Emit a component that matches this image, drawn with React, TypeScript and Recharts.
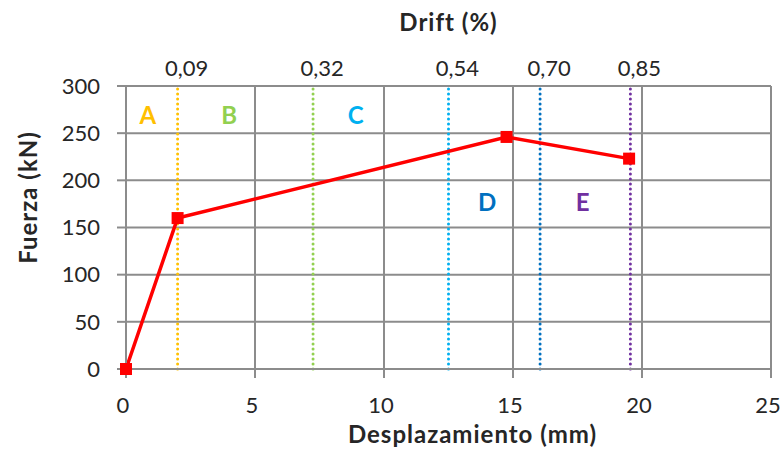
import React from 'react';
import {
  LineChart,
  Line,
  XAxis,
  YAxis,
  CartesianGrid,
  ReferenceLine,
  ReferenceDot,
} from 'recharts';

// Capacity curve: displacement (mm) vs. force (kN)
const displacement = [0, 2, 14.75, 19.5];
const force = [0, 160, 246, 223];

// Drift limits shown as dotted verticals, with their drift (%) labels on top
const driftPositions = [2, 7.25, 12.5, 16.05, 19.55];
const driftLabels = ['0,09', '0,32', '0,54', '0,70', '0,85'];
const driftColors = ['#FFC000', '#92D050', '#00B0F0', '#0070C0', '#7030A0'];

// Zone letters between the limits
const zoneLetters = ['A', 'B', 'C', 'D', 'E'];
const zoneX = [0.85, 4.0, 8.9, 14.0, 17.7];
const zoneY = [269, 269, 269, 177, 177];
const zoneColors = ['#FFC000', '#92D050', '#00B0F0', '#0070C0', '#7030A0'];

const xTicks = [0, 5, 10, 15, 20, 25];
const yTicks = [0, 50, 100, 150, 200, 250, 300];

const data = displacement.map((d, i) => ({ d, f: force[i] }));

const FONT = 'Lato, "Open Sans", sans-serif';
const TEXT = '#262626';
const GRID = '#8c8c8c';

const SquareDot = (props: any) => {
  const { cx, cy, index } = props;
  if (cx == null || cy == null) return null;
  return <rect key={`sq-${index}`} x={cx - 6} y={cy - 6} width={12} height={12} fill="#FF0000" />;
};

// drift labels sit a little right of their dotted line
const DriftTick = ({ x, y, payload, index }: any) => {
  const i = driftPositions.indexOf(payload.value);
  return (
    <text
      x={x + 9}
      y={y}
      textAnchor="middle"
      fontFamily={FONT}
      fontSize={22}
      fill={TEXT}
    >
      {driftLabels[i >= 0 ? i : index]}
    </text>
  );
};

const ForceTitle = ({ viewBox }: any) => {
  const cx = viewBox.x + 27;
  const cy = viewBox.y + viewBox.height / 2 - 30;
  return (
    <text
      x={cx}
      y={cy}
      transform={`rotate(-90 ${cx} ${cy})`}
      textAnchor="middle"
      dominantBaseline="central"
      fontFamily={FONT}
      fontWeight={700}
      fontSize={24}
      letterSpacing={1}
      fill={TEXT}
    >
      Fuerza (kN)
    </text>
  );
};

const App: React.FC = () => {
  return (
    <div style={{ position: 'absolute', left: 0, top: 0, width: 782, height: 452, background: '#fff' }}>
      <LineChart
        width={782}
        height={452}
        data={data}
        margin={{ top: 0, right: 11, bottom: 0, left: 0 }}
        style={{ fontFamily: FONT }}
      >
        <CartesianGrid stroke={GRID} strokeWidth={2} />
        <XAxis
          dataKey="d"
          type="number"
          domain={[0, 25]}
          ticks={xTicks}
          interval={0}
          height={83}
          tickSize={9}
          tickMargin={19}
          axisLine={{ stroke: GRID, strokeWidth: 2 }}
          tickLine={{ stroke: GRID, strokeWidth: 2 }}
          tick={{ fill: TEXT, fontSize: 22, fontFamily: FONT, dx: -3 }}
          label={{
            value: 'Desplazamiento (mm)',
            position: 'insideBottom',
            offset: 9,
            dx: 24,
            fill: TEXT,
            fontSize: 24,
            fontWeight: 700,
            fontFamily: FONT,
            letterSpacing: 1,
          }}
        />
        <XAxis
          xAxisId="top"
          dataKey="d"
          orientation="top"
          type="number"
          domain={[0, 25]}
          ticks={driftPositions}
          interval={0}
          height={86}
          tickSize={0}
          tickMargin={10}
          axisLine={false}
          tickLine={false}
          tick={<DriftTick />}
          label={{
            value: 'Drift (%)',
            position: 'insideTop',
            offset: 14,
            fill: TEXT,
            fontSize: 24,
            fontWeight: 700,
            fontFamily: FONT,
            letterSpacing: 1,
          }}
        />
        <YAxis
          type="number"
          domain={[0, 300]}
          ticks={yTicks}
          interval={0}
          width={126}
          tickSize={9}
          tickMargin={17}
          axisLine={{ stroke: GRID, strokeWidth: 2 }}
          tickLine={{ stroke: GRID, strokeWidth: 2 }}
          tick={{ fill: TEXT, fontSize: 22, fontFamily: FONT }}
          label={<ForceTitle />}
        />

        {driftPositions.map((x, i) => (
          <ReferenceLine
            key={`drift-${i}`}
            x={x}
            stroke={driftColors[i]}
            strokeWidth={3}
            strokeDasharray="0 5"
            strokeLinecap="round"
          />
        ))}

        {zoneLetters.map((letter, i) => (
          <ReferenceDot
            key={`zone-${i}`}
            x={zoneX[i]}
            y={zoneY[i]}
            r={0}
            stroke="none"
            fill="none"
            label={{
              value: letter,
              position: 'center',
              fill: zoneColors[i],
              fontSize: 24,
              fontWeight: 700,
              fontFamily: FONT,
            }}
          />
        ))}

        <Line
          type="linear"
          dataKey="f"
          stroke="#FF0000"
          strokeWidth={3.5}
          dot={<SquareDot />}
          activeDot={false}
          isAnimationActive={false}
        />
      </LineChart>
    </div>
  );
};

export default App;
